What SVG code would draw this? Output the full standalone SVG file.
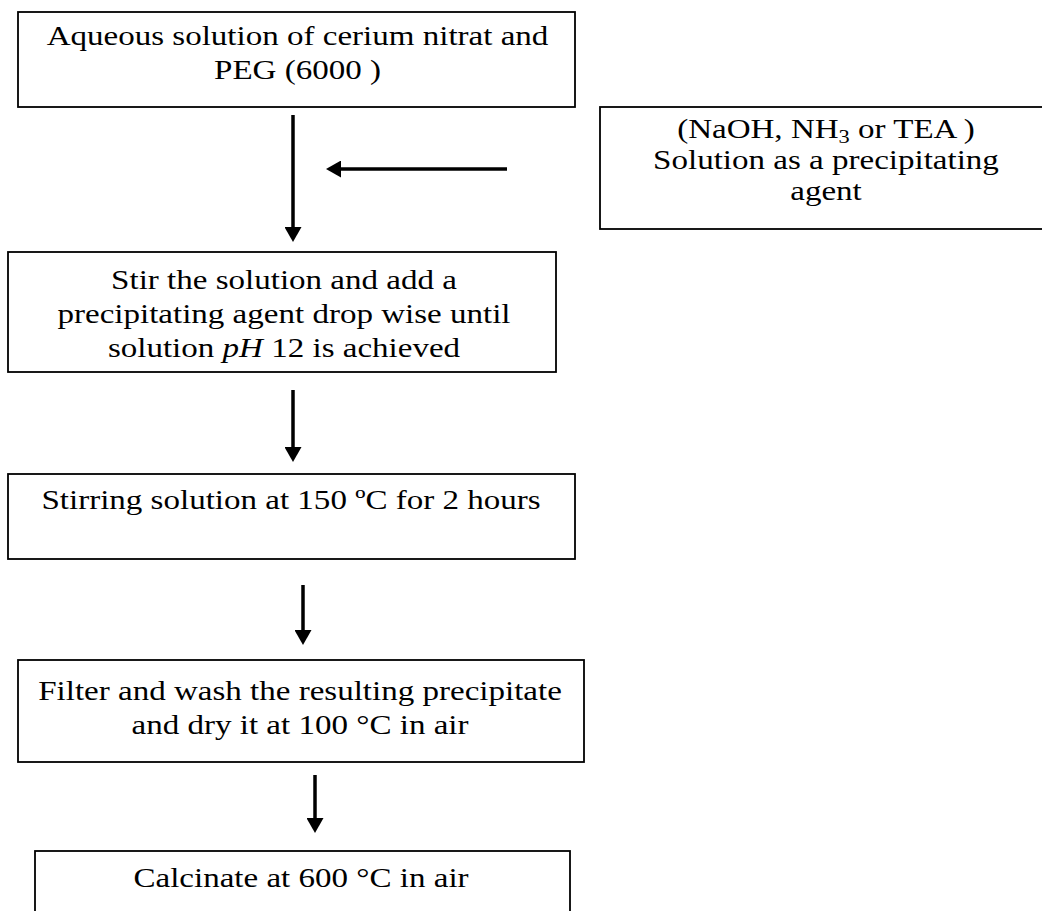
<svg xmlns="http://www.w3.org/2000/svg" width="1042" height="911" viewBox="0 0 1042 911">
<style>
.box{fill:#fff;stroke:#000;stroke-width:1.8}
.t{font-family:"Liberation Serif","Times New Roman",serif;font-size:28px;fill:#000;text-anchor:middle}
.c{stroke:#000;stroke-width:3.5;fill:none}
</style>
<defs>
<marker id="ah" viewBox="0 0 15 17" refX="1" refY="8.5" markerWidth="15" markerHeight="17" markerUnits="userSpaceOnUse" orient="auto">
<path d="M0,0 L15,8.5 L0,17 z" fill="#000"/>
</marker>
</defs>
<rect width="1042" height="911" fill="#fff"/>
<g id="connectors">
<line class="c" x1="293" y1="115" x2="293" y2="228" marker-end="url(#ah)"/>
<line class="c" x1="507" y1="169" x2="340" y2="169" marker-end="url(#ah)"/>
<line class="c" x1="293" y1="390" x2="293" y2="448" marker-end="url(#ah)"/>
<line class="c" x1="303" y1="585" x2="303" y2="631" marker-end="url(#ah)"/>
<line class="c" x1="315" y1="775" x2="315" y2="819" marker-end="url(#ah)"/>
</g>
<g id="n1">
<rect class="box" x="18" y="12" width="557" height="95"/>
<text class="t" transform="translate(297.5,45) scale(1.18,1)">Aqueous solution of cerium nitrat and</text>
<text class="t" transform="translate(297.5,79) scale(1.18,1)">PEG (6000 )</text>
</g>
<g id="n_agent">
<rect class="box" x="600" y="107" width="460" height="122"/>
<text class="t" transform="translate(826,138) scale(1.18,1)">(NaOH, NH<tspan font-size="19" dy="5">3</tspan><tspan dy="-5"> or TEA )</tspan></text>
<text class="t" transform="translate(826,169) scale(1.18,1)">Solution as a precipitating</text>
<text class="t" transform="translate(826,200) scale(1.18,1)">agent</text>
</g>
<g id="n2">
<rect class="box" x="8" y="252" width="548" height="120"/>
<text class="t" transform="translate(284,289) scale(1.18,1)">Stir the solution and add a</text>
<text class="t" transform="translate(284,323) scale(1.18,1)">precipitating agent drop wise until</text>
<text class="t" transform="translate(284,357) scale(1.18,1)">solution <tspan font-style="italic">pH</tspan> 12 is achieved</text>
</g>
<g id="n3">
<rect class="box" x="8" y="474" width="567" height="85"/>
<text class="t" transform="translate(291,509) scale(1.18,1)">Stirring solution at 150 ºC for 2 hours</text>
</g>
<g id="n4">
<rect class="box" x="18" y="660" width="566" height="102"/>
<text class="t" transform="translate(300,700) scale(1.18,1)">Filter and wash the resulting precipitate</text>
<text class="t" transform="translate(300,734) scale(1.18,1)">and dry it at 100 °C in air</text>
</g>
<g id="n5">
<rect class="box" x="35" y="851" width="535" height="80"/>
<text class="t" transform="translate(301,887) scale(1.18,1)">Calcinate at 600 °C in air</text>
</g>
</svg>
